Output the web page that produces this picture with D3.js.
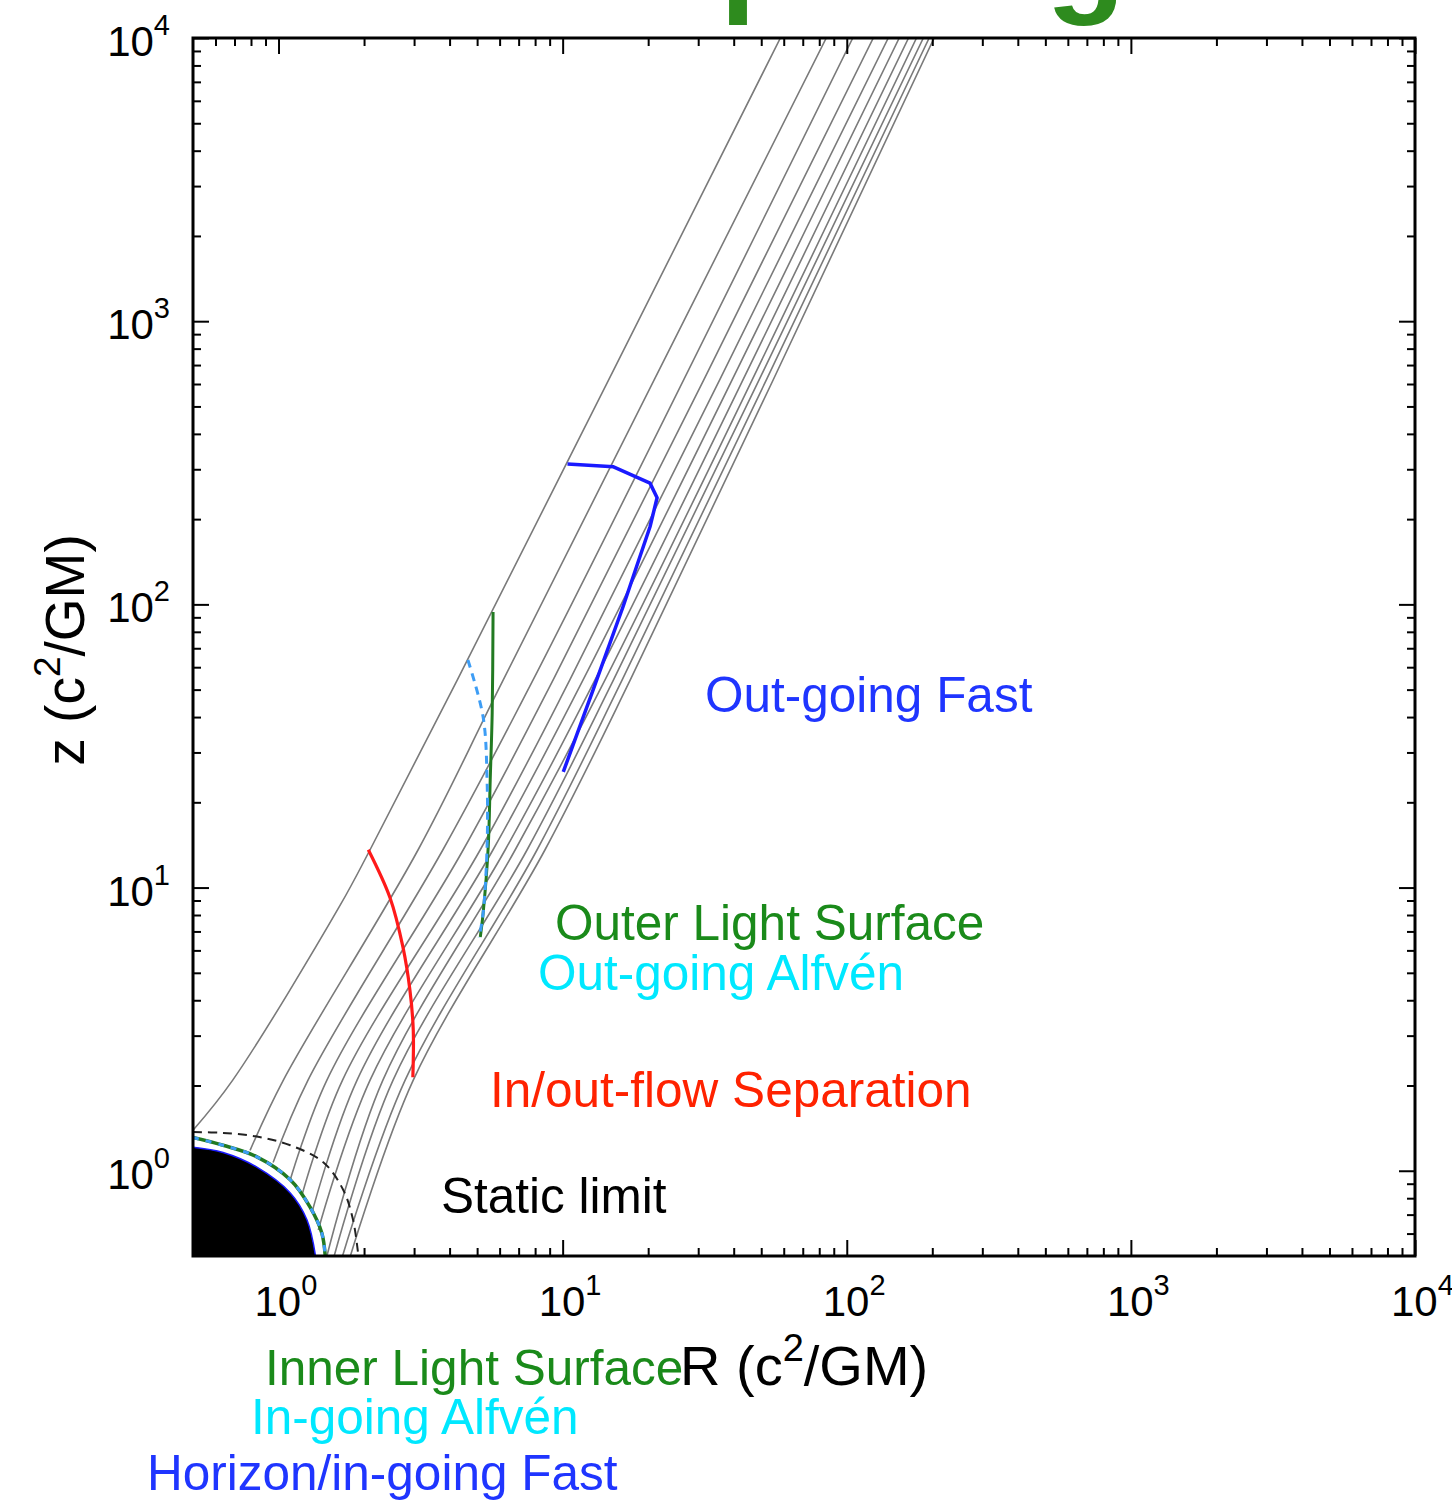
<!DOCTYPE html>
<html><head><meta charset="utf-8">
<script src="https://cdn.jsdelivr.net/npm/d3@7"></script>
<style>
body{margin:0;background:#fff}
svg{display:block}
text{font-family:"Liberation Sans",Arial,Helvetica,sans-serif}
</style>
</head><body>
<svg id="c" width="1452" height="1500"></svg>
<script>
// ---------- data (R, z) in units of GM/c^2 ----------
const xDomain = [0.5, 1e4];
const yDomain = [0.5, 1e4];
const majorTicks = [1, 10, 100, 1000, 10000];
const tickExponents = ["0", "1", "2", "3", "4"];

const fieldLines = [
  [[58.4,1e4],[4.26,54.1],[2.10,13.6],[1.65,8.68],[0.69,2.09],[0.5,1.39]],
  [[84.7,1e4],[6.18,54.1],[3.10,13.6],[1.04,2.09],[0.794,1.18]],
  [[105,1e4],[7.87,54.1],[3.79,13.6],[1.27,2.09],[0.957,1.07]],
  [[124,1e4],[9.26,54.1],[4.47,13.6],[1.48,2.09],[1.10,0.929]],
  [[140,1e4],[10.6,54.1],[5.13,13.6],[1.68,2.09],[1.21,0.822]],
  [[153,1e4],[11.8,54.1],[5.69,13.6],[1.89,2.09],[1.31,0.710]],
  [[165,1e4],[13.0,54.1],[6.28,13.6],[2.10,2.09],[1.38,0.618]],
  [[176,1e4],[14.1,54.1],[6.81,13.6],[2.33,2.09],[1.48,0.5]],
  [[186,1e4],[15.1,54.1],[7.50,13.6],[2.53,2.09],[1.57,0.5]],
  [[195,1e4],[16.2,54.1],[8.13,13.6],[2.79,2.09],[1.68,0.5]],
  [[203,1e4],[17.3,54.1],[8.67,13.6],[2.98,2.09],[1.79,0.5]]
];
const horizon = [[0.5,1.21],[0.638,1.16],[0.839,1.03],[1.10,0.835],[1.26,0.670],[1.35,0.5]];
const innerLightSurface = [[0.5,1.31],[0.638,1.23],[0.839,1.12],[1.10,0.929],[1.29,0.745],[1.42,0.603],[1.46,0.5]];
const staticLimit = [[0.5,1.37],[0.638,1.36],[0.839,1.32],[1.10,1.23],[1.44,1.07],[1.69,0.855],[1.83,0.670],[1.91,0.5]];
const separation = [[2.07,13.6],[2.47,9.19],[2.74,6.17],[2.90,4.35],[2.98,3.14],[2.97,2.14]];
const outerLightSurface = [[5.69,94.0],[5.65,41.4],[5.56,24.0],[5.47,13.9],[5.25,8.13],[5.13,6.69]];
const outgoingAlfven = [[4.64,63.6],[5.25,40.0],[5.42,24.0],[5.42,13.9],[5.25,8.13],[5.08,6.65]];
const outgoingFast = [[10.4,313],[15.1,306],[20.3,268],[21.5,238],[20.3,188],[16.3,97.9],[12.8,49.9],[10.05,25.6]];

const annotationTexts = ["Out-going Fast","Outer Light Surface","Out-going Alfvén","In/out-flow Separation","Static limit","Inner Light Surface","In-going Alfvén","Horizon/in-going Fast"];

// ---------- layout ----------
const M = {left:193, right:1415, top:38, bottom:1256};
const annotationLayout = [
  {x:705, y:712, c:"#1f35ff"},
  {x:555, y:940, c:"#1a8a1a"},
  {x:538, y:990, c:"#00e8ff"},
  {x:490, y:1107, c:"#ff2200"},
  {x:441, y:1213, c:"#000"},
  {x:265, y:1385, c:"#1a8a1a"},
  {x:251, y:1434, c:"#00e8ff"},
  {x:147, y:1490, c:"#1f35ff"}
];

const svg = d3.select("#c");
const x = d3.scaleLog().domain(xDomain).range([M.left, M.right]);
const y = d3.scaleLog().domain(yDomain).range([M.bottom, M.top]);

svg.append("defs").append("clipPath").attr("id","plot")
  .append("rect").attr("x",M.left).attr("y",M.top)
  .attr("width",M.right-M.left).attr("height",M.bottom-M.top);

// partially visible title glyphs (cut by the top edge, as in the reference)
svg.append("text").attr("x",720).attr("y",-2).attr("font-size",130).attr("font-weight","bold")
  .attr("fill","#2e8b1e").text("p");
svg.append("text").attr("x",1046).attr("y",-2).attr("font-size",130).attr("font-weight","bold")
  .attr("fill","#2e8b1e").text("g");

const plot = svg.append("g").attr("clip-path","url(#plot)");
const line = d3.line().x(d=>x(d[0])).y(d=>y(d[1])).curve(d3.curveCatmullRom.alpha(0.5));

// field lines
plot.selectAll("path.fl").data(fieldLines).join("path").attr("class","fl")
  .attr("d", line).attr("fill","none").attr("stroke","#7a7a7a").attr("stroke-width",1.6);

// horizon (black)
plot.append("path")
  .attr("d", line(horizon) + `L${x(0.5)},${y(0.5)}Z`)
  .attr("fill","#000");
plot.append("path").attr("d", line(horizon)).attr("fill","none")
  .attr("stroke","#1a1aff").attr("stroke-width",1.5);

// static limit
plot.append("path").attr("d", line(staticLimit)).attr("fill","none")
  .attr("stroke","#222").attr("stroke-width",2).attr("stroke-dasharray","9,6");

// inner light surface + in-going Alfven
plot.append("path").attr("d", line(innerLightSurface)).attr("fill","none")
  .attr("stroke","#227a22").attr("stroke-width",3.5);
plot.append("path").attr("d", line(innerLightSurface)).attr("fill","none")
  .attr("stroke","#3d9df5").attr("stroke-width",3).attr("stroke-dasharray","6,7");

// separation
plot.append("path").attr("d", line(separation)).attr("fill","none")
  .attr("stroke","#ff1a1a").attr("stroke-width",3.2);

// outer light surface + out-going Alfven
plot.append("path").attr("d", line(outerLightSurface)).attr("fill","none")
  .attr("stroke","#227a22").attr("stroke-width",3);
plot.append("path").attr("d", line(outgoingAlfven)).attr("fill","none")
  .attr("stroke","#3d9df5").attr("stroke-width",3).attr("stroke-dasharray","8,6");

// out-going fast
plot.append("path").attr("d", d3.line().x(d=>x(d[0])).y(d=>y(d[1]))(outgoingFast)).attr("fill","none")
  .attr("stroke","#1a1aff").attr("stroke-width",3.5).attr("stroke-linejoin","round");

// ---------- axes ----------
const minorTicks = [];
[0.1,1,10,100,1000].forEach(d=>{for(let m=2;m<=9;m++){const v=d*m; if(v>0.5&&v<1e4) minorTicks.push(v);}});

function styleAxis(g){
  g.select(".domain").remove();
  g.selectAll(".tick line").attr("stroke","#000").attr("stroke-width",2);
  g.selectAll(".tick text").remove();
}
const axes = [
  [d3.axisBottom, x, `translate(0,${M.bottom})`],
  [d3.axisTop, x, `translate(0,${M.top})`],
  [d3.axisLeft, y, `translate(${M.left},0)`],
  [d3.axisRight, y, `translate(${M.right},0)`]
];
axes.forEach(([fn, sc, tr])=>{
  svg.append("g").attr("transform",tr)
    .call(fn(sc).tickValues(majorTicks).tickSize(-16).tickFormat(""))
    .call(styleAxis);
  svg.append("g").attr("transform",tr)
    .call(fn(sc).tickValues(minorTicks).tickSize(-8).tickFormat(""))
    .call(styleAxis);
});
svg.append("rect").attr("x",M.left).attr("y",M.top)
  .attr("width",M.right-M.left).attr("height",M.bottom-M.top)
  .attr("fill","none").attr("stroke","#000").attr("stroke-width",3);

// tick labels
svg.append("g").selectAll("text").data(majorTicks).join("text")
  .attr("x", d=>x(d)-24).attr("y", 1316).attr("font-size",42).attr("fill","#000")
  .each(function(d,i){
    const t=d3.select(this);
    t.append("tspan").text("10");
    t.append("tspan").attr("dy",-21).attr("font-size",29).text(tickExponents[i]);
  });
svg.append("g").selectAll("text").data(majorTicks).join("text")
  .attr("x", 170).attr("y", d=>y(d)+18).attr("font-size",42).attr("fill","#000")
  .attr("text-anchor","end")
  .each(function(d,i){
    const t=d3.select(this);
    t.append("tspan").text("10");
    t.append("tspan").attr("dy",-21).attr("font-size",29).text(tickExponents[i]);
  });

// axis titles
const xt = svg.append("text").attr("x",680).attr("y",1385).attr("font-size",56).attr("fill","#000");
xt.append("tspan").text("R (c");
xt.append("tspan").attr("dy",-24).attr("font-size",38).text("2");
xt.append("tspan").attr("dy",24).text("/GM)");

const yt = svg.append("text").attr("transform","translate(84,650) rotate(-90)")
  .attr("text-anchor","middle").attr("font-size",55).attr("fill","#000");
yt.append("tspan").text("z (c");
yt.append("tspan").attr("dy",-24).attr("font-size",37).text("2");
yt.append("tspan").attr("dy",24).text("/GM)");

// annotations
svg.append("g").selectAll("text").data(annotationTexts).join("text")
  .attr("x",(d,i)=>annotationLayout[i].x).attr("y",(d,i)=>annotationLayout[i].y)
  .attr("fill",(d,i)=>annotationLayout[i].c).attr("font-size",49.5)
  .text(d=>d);
</script>
</body></html>
